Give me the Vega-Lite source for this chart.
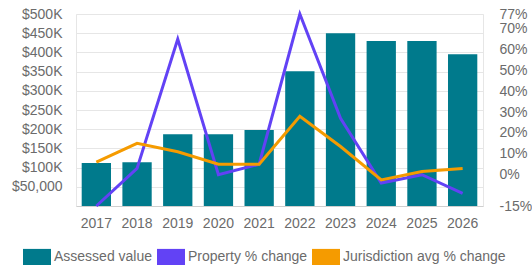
{
  "$schema": "https://vega.github.io/schema/vega-lite/v6.json",
  "width": 407,
  "height": 192,
  "autosize": "none",
  "padding": {"left": 76, "top": 14, "right": 49, "bottom": 59},
  "background": "white",
  "config": {
    "font": "Liberation Sans",
    "view": {"stroke": "#e6e6e6", "strokeWidth": 1},
    "axis": {"labelFont": "Liberation Sans", "labelFontSize": 14, "labelColor": "#6b6b6b", "ticks": false, "title": null, "labelOverlap": false},
    "legend": {"labelFont": "Liberation Sans", "labelFontSize": 14, "labelColor": "#6b6b6b", "labelLimit": 300}
  },
  "data": {
    "values": [
      {"year": "2017", "value": 112000, "prop": -15, "juris": 6},
      {"year": "2018", "value": 114000, "prop": 3, "juris": 15},
      {"year": "2019", "value": 187000, "prop": 65, "juris": 11},
      {"year": "2020", "value": 187000, "prop": 0, "juris": 5},
      {"year": "2021", "value": 198000, "prop": 5, "juris": 5},
      {"year": "2022", "value": 351000, "prop": 77, "juris": 28},
      {"year": "2023", "value": 450000, "prop": 27, "juris": 13.5},
      {"year": "2024", "value": 430000, "prop": -4, "juris": -2.5},
      {"year": "2025", "value": 430000, "prop": 0, "juris": 1.5},
      {"year": "2026", "value": 395000, "prop": -9, "juris": 3}
    ]
  },
  "encoding": {
    "x": {
      "field": "year",
      "type": "ordinal",
      "scale": {"paddingInner": 0.28, "paddingOuter": 0.14},
      "axis": {"labelAngle": 0, "labelPadding": 10, "domain": true, "domainColor": "#cfcfcf", "grid": false}
    }
  },
  "layer": [
    {
      "mark": {"type": "bar", "color": "#007a8c"},
      "encoding": {
        "y": {
          "field": "value",
          "type": "quantitative",
          "scale": {"domain": [0, 500000], "nice": false},
          "axis": {
            "orient": "left",
            "values": [50000, 100000, 150000, 200000, 250000, 300000, 350000, 400000, 450000, 500000],
            "labelExpr": "datum.value == 50000 ? '$50,000' : '$' + (datum.value/1000) + 'K'",
            "labelOverlap": false,
            "domain": false,
            "grid": true,
            "gridColor": "#e6e6e6",
            "labelPadding": 14
          }
        },
        "color": {
          "datum": "Assessed value",
          "type": "nominal",
          "scale": {
            "domain": ["Assessed value", "Property % change", "Jurisdiction avg % change"],
            "range": ["#007a8c", "#6242f5", "#f59b00"]
          },
          "legend": {
            "orient": "none",
            "legendX": -53,
            "legendY": 229,
            "direction": "horizontal",
            "columns": 3,
            "columnPadding": 4,
            "labelOffset": 3,
            "labelLimit": 300,
            "padding": 0,
            "title": null,
            "symbolType": "M-1,-0.6H1V0.6H-1Z",
            "symbolSize": 784,
            "symbolStrokeWidth": 0,
            "encode": {
              "symbols": {
                "update": {
                  "fill": {"scale": "color", "field": "value"},
                  "stroke": {"value": "transparent"},
                  "opacity": {"value": 1}
                }
              }
            }
          }
        }
      }
    },
    {
      "layer": [
        {
          "mark": {"type": "line", "strokeWidth": 3},
          "encoding": {
            "y": {
              "field": "prop",
              "type": "quantitative",
              "scale": {"domain": [-15, 77], "nice": false, "zero": false},
              "axis": {
                "orient": "right",
                "values": [-15, 0, 10, 20, 30, 40, 50, 60, 70, 77],
                "labelExpr": "datum.value + '%'",
                "labelOverlap": false,
                "labelBound": false,
                "domain": false,
                "grid": false,
                "labelPadding": 16
              }
            },
            "color": {"datum": "Property % change", "type": "nominal"}
          }
        },
        {
          "mark": {"type": "line", "strokeWidth": 3},
          "encoding": {
            "y": {
              "field": "juris",
              "type": "quantitative",
              "axis": {
                "orient": "right",
                "values": [-15, 0, 10, 20, 30, 40, 50, 60, 70, 77],
                "labelExpr": "datum.value + '%'",
                "labelOverlap": false,
                "labelBound": false,
                "domain": false,
                "grid": false,
                "labelPadding": 16
              }
            },
            "color": {"datum": "Jurisdiction avg % change", "type": "nominal"}
          }
        }
      ]
    }
  ],
  "resolve": {"scale": {"y": "independent"}}
}
